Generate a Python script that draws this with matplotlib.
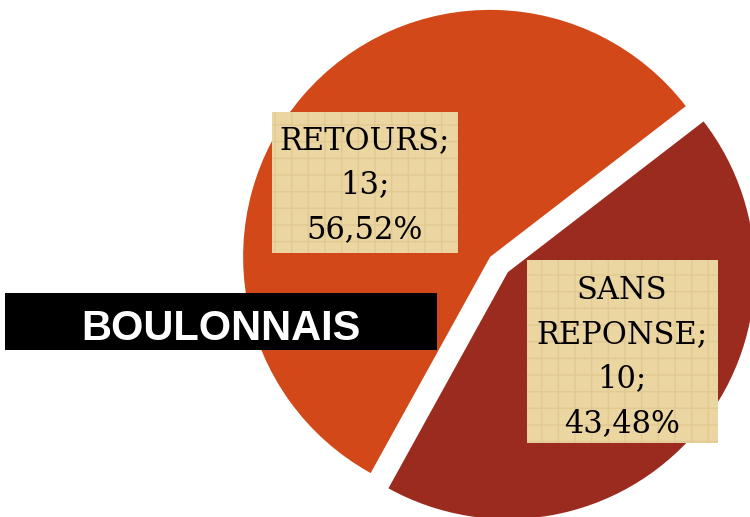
import matplotlib.pyplot as plt
from matplotlib.patches import Rectangle

# données
categories = ['RETOURS', 'SANS REPONSE']
valeurs = [13, 10]
couleurs = ['#D24818', '#9B2B1F']
titre = 'BOULONNAIS'

total = sum(valeurs)
pourcents = [v / total * 100 for v in valeurs]
etiquettes = []
for cat, v, p in zip(categories, valeurs, pourcents):
    cat_txt = cat.replace(' ', '\n')
    etiquettes.append(f"{cat_txt};\n{v};\n{p:.2f}%".replace('.', ','))

W, H = 750, 517
fig = plt.figure(figsize=(7.5, 5.17), dpi=100)
ax = fig.add_axes([0, 0, 1, 1])

# camembert (coordonnées en pixels, y vers le haut)
# explode est en unités de données ici (pas en fraction du rayon)
ax.pie(valeurs, colors=couleurs, startangle=37.6, radius=247,
       center=(499, H - 264.5), explode=[11.7, 11.7],
       wedgeprops=dict(linewidth=0))
ax.set_xlim(0, W)
ax.set_ylim(0, H)
ax.set_aspect('equal')
ax.axis('off')

# boites des étiquettes (x0, y0 en haut, x1, y1 en bas, image) + centre du texte
boites = [(272, 112, 458, 253), (527, 260, 718, 443)]
centres_txt = [(365, 185), (622, 357)]
for (x0, y0, x1, y1), (tx, ty), txt in zip(boites, centres_txt, etiquettes):
    ax.add_patch(Rectangle((x0, H - y1), x1 - x0, y1 - y0,
                           facecolor='#EBD5A1', edgecolor='none', zorder=3))
    ax.add_patch(Rectangle((x0, H - y1), x1 - x0, y1 - y0, fill=False,
                           edgecolor='#E2C993', linewidth=0, hatch='+',
                           zorder=3))
    ax.text(tx, H - ty, txt, ha='center', va='center', fontsize=22,
            family='DejaVu Serif', linespacing=1.55, color='black', zorder=4)

# titre dans le bandeau noir
ax.add_patch(Rectangle((5, H - 350), 432, 57, facecolor='black',
                       edgecolor='none', zorder=3))
ax.text(221, H - 329, titre, ha='center', va='center', fontsize=30,
        fontweight='bold', family='Liberation Sans', color='white', zorder=4)

fig.savefig('out.png', dpi=100)
